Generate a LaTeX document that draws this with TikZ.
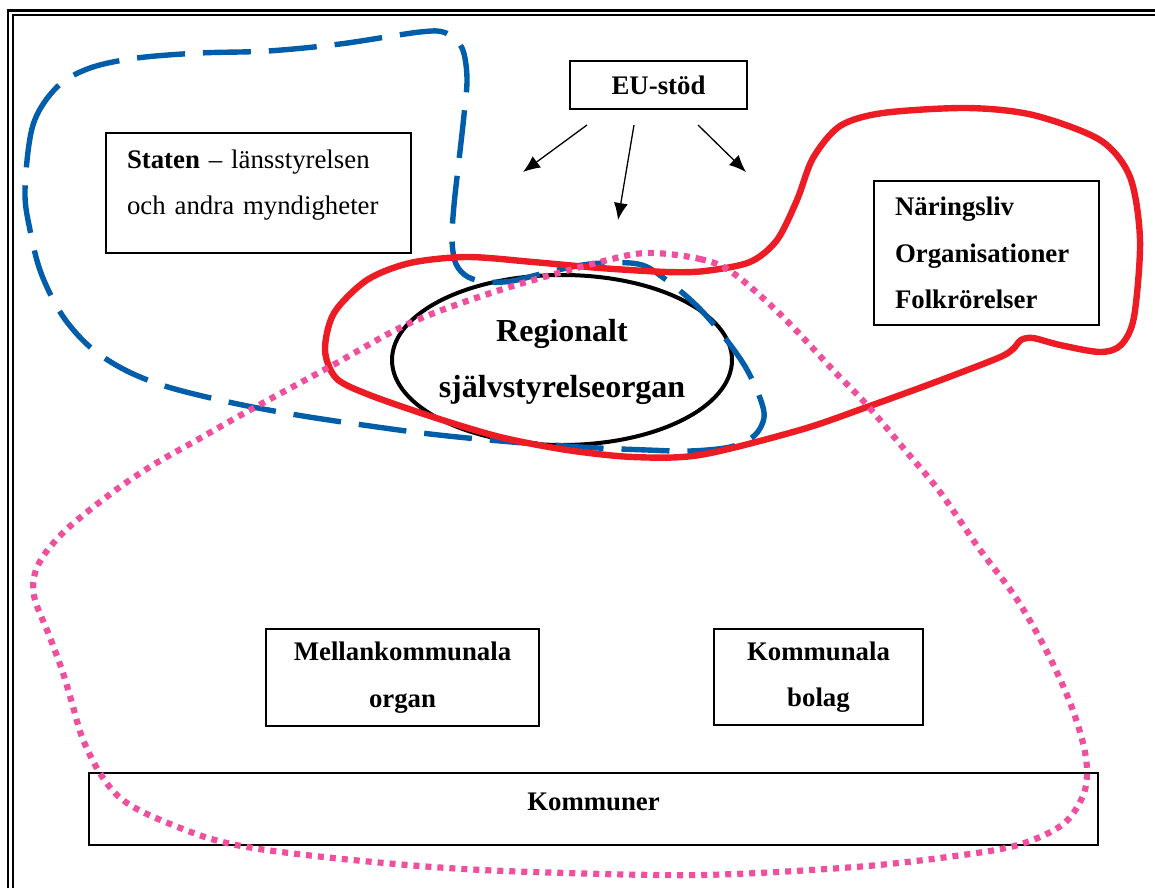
\documentclass[tikz,border=0pt]{standalone}
\usepackage{fontspec}
\setmainfont{Liberation Serif}
\usetikzlibrary{arrows.meta}
\usetikzlibrary{shapes}
\definecolor{statecolor}{RGB}{0,93,170}
\definecolor{tradecolor}{RGB}{237,28,36}
\definecolor{municolor}{RGB}{239,79,157}

\begin{document}
\begin{tikzpicture}[x=0.5pt, y=-0.5pt, >={Latex[length=8.5pt, width=7pt]}]
            \tikzset{box/.style={draw, line width=0.8pt, inner sep=0pt, font=\fontsize{13.4}{23.25}\selectfont\bfseries}}
            \tikzset{arrow/.style={->, line width=0.65pt}}
            \tikzset{state line/.style={line width=2.7pt, statecolor, dash pattern=on 24pt off 9pt}}
            \tikzset{trade line/.style={line width=3.2pt, tradecolor}}
            \tikzset{muni line/.style={line width=3.1pt, municolor, dash pattern=on 3pt off 3pt}}
            \useasboundingbox (0,0) rectangle (1155,888);

            % double frame, cut at the right and bottom
            \draw[line width=1.4pt] (8,888) -- (8,10.7) -- (1155,10.7);
            \draw[line width=0.9pt] (13.3,888) -- (13.3,15.3) -- (1155,15.3);

            \node[box, minimum width=88.5pt, minimum height=24pt] (eu) at (658.5,85) {EU-stöd};
            \node[box, minimum width=152.5pt, minimum height=60pt, text width=131.5pt, align=left, text depth=34pt, font=\fontsize{13.4}{23.25}\selectfont] (staten) at (258.5,193) {\textbf{Staten} – länsstyrelsen\\och andra myndigheter};
            \node[box, minimum width=112.5pt, minimum height=72pt, text width=91.5pt, align=left] (naring) at (986.5,253) {Näringsliv\\Organisationer\\Folkrörelser};
            \node[box, minimum width=136.5pt, minimum height=48.5pt, align=center] (mellan) at (402.5,677.5) {Mellankommunala\\organ};
            \node[box, minimum width=104.5pt, minimum height=48pt, align=center] (bolag) at (818.5,677) {Kommunala\\bolag};
            \node[box, minimum width=504.5pt, minimum height=36pt, text depth=7pt] (kommuner) at (593.5,809) {Kommuner};

            \node[align=center, inner sep=0pt, font=\fontsize{16}{28}\selectfont\bfseries] (region) at (562,362) {Regionalt\\självstyrelseorgan};
            \draw[line width=2pt] (562,360) ellipse [x radius=85pt, y radius=42.5pt];

            % arrows from EU-stöd
            \coordinate (eu l) at (587,125);
            \coordinate (eu m) at (634,125);
            \coordinate (eu r) at (698,125);
            \coordinate (to l) at (523,172);
            \coordinate (to m) at (618,220);
            \coordinate (to r) at (746,172);
            \draw[arrow] (eu l) -- (to l);
            \draw[arrow] (eu m) -- (to m);
            \draw[arrow] (eu r) -- (to r);

            % staten
            \draw[state line] plot[smooth cycle, tension=0.55] coordinates {
                (25,190) (33,125) (57,87) (90,68) (137,58) (200,53) (268,51) (340,44) (420,32)
                (446,33) (462,48) (467,78) (464,115) (459,160) (454,205) (452,240) (456,264)
                (468,277) (488,282) (512,281) (545,273) (590,264) (638,264) (665,279) (697,306)
                (725,338) (746,368) (760,398) (764,418) (754,436) (730,447) (690,451) (647,450)
                (580,447) (500,441) (430,434) (363,425) (297,415) (233,403) (168,387) (125,370)
                (90,347) (62,315) (41,273) (30,230)};

            % naringsliv
            \draw[trade line] plot[smooth cycle, tension=0.5] coordinates {
                (325,350) (334,313) (367,280) (410,263) (467,257) (533,262) (600,268) (667,272)
                (705,271) (750,262) (777,240) (797,200) (813,158) (840,126) (883,113) (967,108)
                (1033,115) (1100,140) (1130,177) (1140,240) (1134,317) (1121,345) (1100,352)
                (1060,345) (1033,338) (1021,340) (1013,349) (998,358) (933,383) (867,407)
                (800,430) (700,455) (633,457) (567,450) (500,437) (433,417) (367,394) (336,378)};

            % kommuner
            \draw[muni line] plot[smooth cycle, tension=0.55] coordinates {
                (647,253) (700,259) (733,273) (783,317) (833,370) (867,405) (905,450) (940,492)
                (978,547) (1016,598) (1046,650) (1069,700) (1083,743) (1087,773) (1082,798)
                (1062,825) (1018,845) (955,856) (855,867) (700,875) (533,872) (433,867)
                (333,858) (253,848) (205,837) (147,814) (118,796) (98,770) (82,737) (72,703)
                (62,670) (49,635) (35,600) (34,577) (44,555) (68,528) (113,492) (153,465)
                (197,440) (250,410) (333,365) (410,323) (500,290) (600,262)};
        \end{tikzpicture}
\end{document}
